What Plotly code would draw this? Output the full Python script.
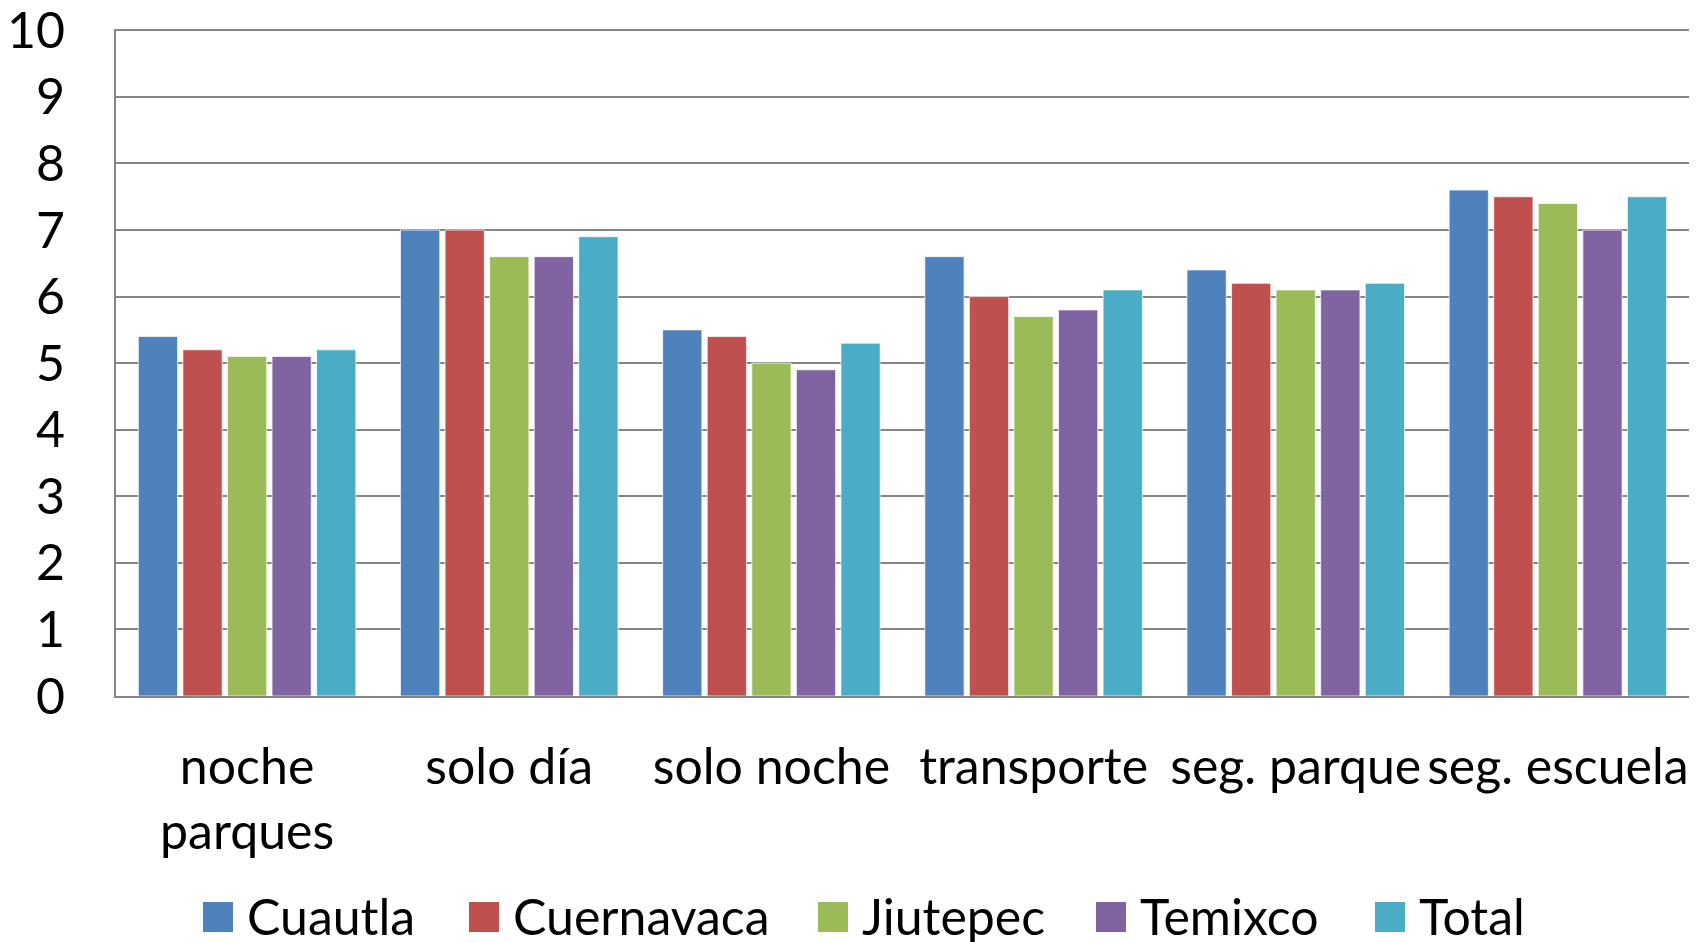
import plotly.graph_objects as go

W, H = 1706, 942
PL, PR, PT, PB = 116, 1689, 29, 696

categories = ['noche<br>parques', 'solo día', 'solo noche', 'transporte', 'seg. parque', 'seg. escuela']
series_names = ['Cuautla', 'Cuernavaca', 'Jiutepec', 'Temixco', 'Total']
cuautla = [5.4, 7.0, 5.5, 6.6, 6.4, 7.6]
cuernavaca = [5.2, 7.0, 5.4, 6.0, 6.2, 7.5]
jiutepec = [5.1, 6.6, 5.0, 5.7, 6.1, 7.4]
temixco = [5.1, 6.6, 4.9, 5.8, 6.1, 7.0]
total = [5.2, 6.9, 5.3, 6.1, 6.2, 7.5]
colors = ['#4F81BD', '#C0504D', '#9BBB59', '#8064A2', '#4BACC6']

FONT = 'Lato'
FS = 50

fig = go.Figure()
for name, vals, c in zip(series_names, [cuautla, cuernavaca, jiutepec, temixco, total], colors):
    fig.add_trace(go.Bar(x=categories, y=vals, name=name, marker_color=c,
                         marker_line=dict(width=1, color='rgba(255,255,255,0.7)'),
                         showlegend=False))


def px_x(p):
    return (p - PL) / (PR - PL)


def px_y(p):
    return (PB - p) / (PB - PT)


# legend drawn as swatches + labels (big squares like the original)
legend_x = [203, 469, 818, 1096, 1375]
shapes, annotations = [], []
for name, c, x0 in zip(series_names, colors, legend_x):
    shapes.append(dict(type='rect', xref='paper', yref='paper',
                       x0=px_x(x0), x1=px_x(x0 + 30), y0=px_y(902), y1=px_y(932),
                       fillcolor=c, line_width=0))
    annotations.append(dict(xref='paper', yref='paper', x=px_x(x0 + 42), y=px_y(916),
                            xanchor='left', yanchor='middle', showarrow=False,
                            text=name, font=dict(family=FONT, size=FS, color='black')))

fig.update_layout(
    width=W, height=H,
    margin=dict(l=PL, r=W - PR, t=PT, b=H - PB),
    paper_bgcolor='white', plot_bgcolor='white',
    barmode='group', bargap=0.15, bargroupgap=0.12,
    font=dict(family=FONT, size=FS, color='black'),
    shapes=shapes, annotations=annotations,
    showlegend=False,
)
fig.update_yaxes(range=[0, 10.02], tickvals=list(range(11)), showgrid=True,
                 gridcolor='#868686', gridwidth=2, automargin=False,
                 showline=True, linecolor='#868686', linewidth=2, ticks='',
                 ticklabelstandoff=39, ticklabeloverflow='allow', zeroline=False)
fig.update_xaxes(showline=True, linecolor='#868686', linewidth=2, ticks='', tickangle=0,
                 automargin=False, ticklabelstandoff=26, ticklabeloverflow='allow')

fig.write_html('out.html', config={'displayModeBar': False},
               post_script="document.body.style.margin='0px';")
